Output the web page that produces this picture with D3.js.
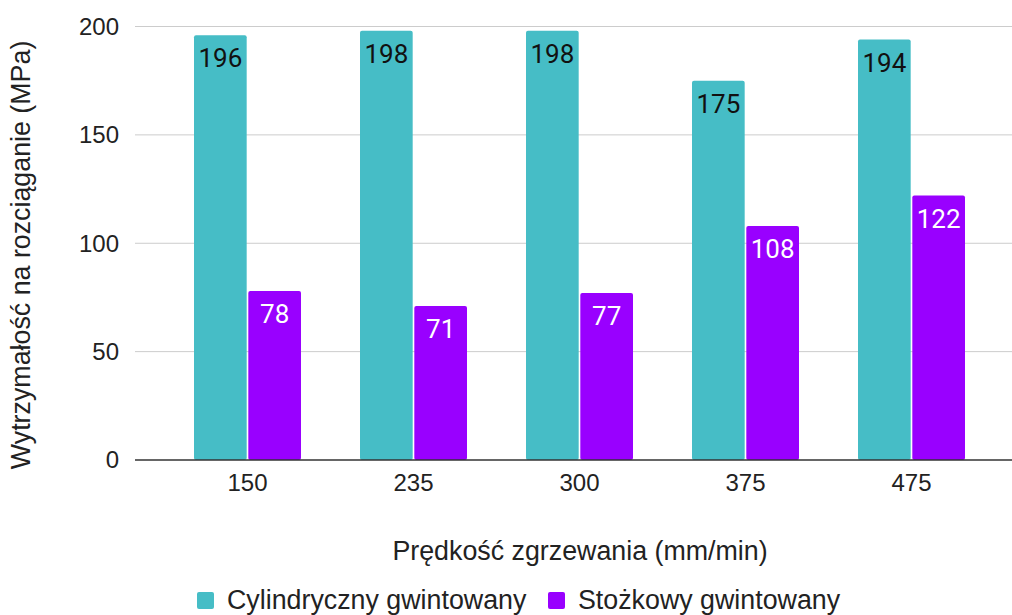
<!DOCTYPE html>
<html>
<head>
<meta charset="utf-8">
<script src="https://cdn.jsdelivr.net/npm/d3@7"></script>
<style>
  body { margin: 0; background: #fff; }
  text { font-family: "Liberation Sans", Arial, sans-serif; }
</style>
</head>
<body>
<div id="chart"></div>
<script>
// data
var speeds = ["150", "235", "300", "375", "475"];
var cylindryczny = [196, 198, 198, 175, 194];
var stozkowy = [78, 71, 77, 108, 122];
var seriesNames = ["Cylindryczny gwintowany", "Stożkowy gwintowany"];
var yTicks = [0, 50, 100, 150, 200];

var colors = ["#46BDC6", "#9900FF"];
var labelColors = ["#111", "#fff"];

var W = 1012, H = 615;
var svg = d3.select("#chart")
  .append("svg")
    .attr("width", W)
    .attr("height", H);

// scales
var x = d3.scaleBand()
  .domain(speeds)
  .range([164.5, 994.5]);

var xInner = d3.scaleBand()
  .domain([0, 1])
  .range([29.5, x.bandwidth() - 29.5])
  .paddingInner(0.03);

var y = d3.scaleLinear()
  .domain([0, 200])
  .range([460, 26.5]);

// gridlines
svg.append("g")
  .selectAll("line")
  .data(yTicks.filter(function(d) { return d > 0; }))
  .enter()
  .append("line")
    .attr("x1", 135)
    .attr("x2", W)
    .attr("y1", function(d) { return y(d); })
    .attr("y2", function(d) { return y(d); })
    .style("stroke", "#ccc")
    .style("stroke-width", 1);

// y tick labels
svg.append("g")
  .selectAll("text")
  .data(yTicks)
  .enter()
  .append("text")
    .attr("x", 119)
    .attr("y", function(d) { return y(d); })
    .attr("dy", "0.35em")
    .attr("text-anchor", "end")
    .style("font-size", "24px")
    .style("fill", "#222")
    .text(function(d) { return d; });

// bars
var series = [cylindryczny, stozkowy];
var groups = svg.append("g")
  .selectAll("g")
  .data(speeds)
  .enter()
  .append("g")
    .attr("transform", function(d) { return "translate(" + x(d) + ",0)"; });

groups.each(function(s, i) {
  var g = d3.select(this);
  series.forEach(function(vals, k) {
    var v = vals[i];
    g.append("rect")
      .attr("x", xInner(k))
      .attr("y", y(v))
      .attr("width", xInner.bandwidth())
      .attr("height", y(0) - y(v))
      .attr("rx", 2)
      .style("fill", colors[k]);
    g.append("text")
      .attr("x", xInner(k) + xInner.bandwidth() / 2)
      .attr("y", y(v) + 32)
      .attr("text-anchor", "middle")
      .style("font-family", "Roboto, sans-serif")
      .style("font-size", "26px")
      .style("fill", labelColors[k])
      .text(v);
  });
});

// x axis
var xAxis = svg.append("g")
  .attr("transform", "translate(0,460)")
  .call(d3.axisBottom(x).tickSize(0).tickPadding(14));
xAxis.select(".domain").remove();
xAxis.selectAll("text")
  .style("font-family", "Liberation Sans, Arial, sans-serif")
  .style("font-size", "24px")
  .style("fill", "#222");
svg.append("line")
  .attr("x1", 135)
  .attr("x2", W)
  .attr("y1", y(0))
  .attr("y2", y(0))
  .style("stroke", "#333")
  .style("stroke-width", 1.3);

// axis titles
svg.append("text")
  .attr("x", 580)
  .attr("y", 560)
  .attr("text-anchor", "middle")
  .style("font-size", "26.8px")
  .style("fill", "#222")
  .text("Prędkość zgrzewania (mm/min)");

svg.append("text")
  .attr("transform", "rotate(-90)")
  .attr("x", -255)
  .attr("y", 30)
  .attr("text-anchor", "middle")
  .style("font-size", "26.8px")
  .style("fill", "#222")
  .text("Wytrzymałość na rozciąganie (MPa)");

// legend
var legendX = [197, 548];
seriesNames.forEach(function(name, k) {
  svg.append("rect")
    .attr("x", legendX[k])
    .attr("y", 592)
    .attr("width", 17)
    .attr("height", 17)
    .attr("rx", 2)
    .style("fill", colors[k]);
  svg.append("text")
    .attr("x", legendX[k] + 30)
    .attr("y", 609)
    .style("font-size", "26.8px")
    .style("fill", "#222")
    .text(name);
});
</script>
</body>
</html>
